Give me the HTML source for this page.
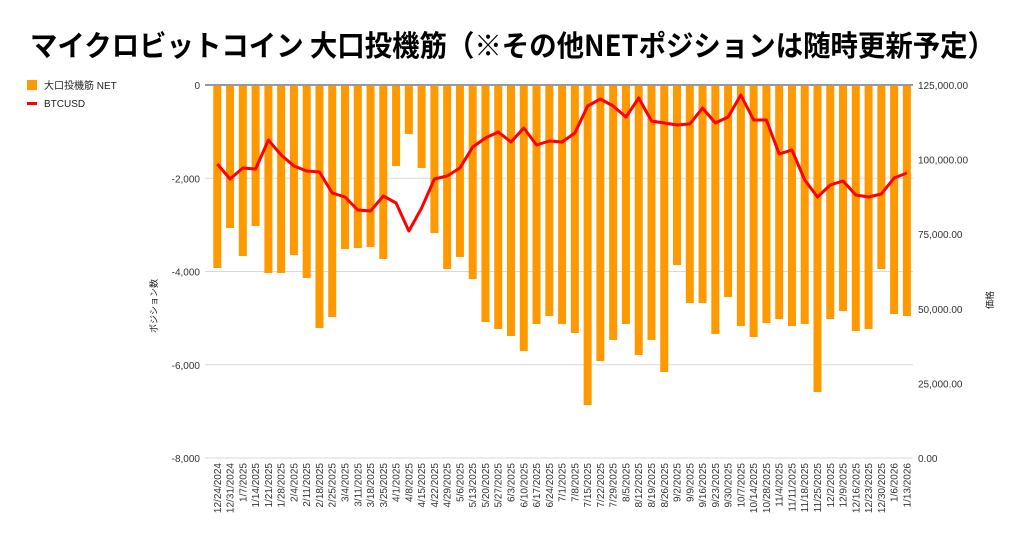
<!DOCTYPE html>
<html><head><meta charset="utf-8">
<style>
html,body{margin:0;padding:0;background:#fff;}
svg{display:block;font-family:"Liberation Sans","Noto Sans CJK JP",sans-serif;}
</style></head>
<body>
<svg id="c" width="1024" height="541" viewBox="0 0 1024 541" xmlns="http://www.w3.org/2000/svg">
<rect width="1024" height="541" fill="#fff"/>
<text x="30" y="56" font-size="29" font-weight="bold" fill="#000" textLength="965" lengthAdjust="spacingAndGlyphs" font-family="'Noto Sans CJK JP',sans-serif">マイクロビットコイン 大口投機筋（※その他NETポジションは随時更新予定）</text>
<rect x="27" y="80" width="10" height="10" fill="#ff9900"/>
<text x="44" y="89" font-size="10" fill="#222">大口投機筋  NET</text>
<rect x="27" y="102" width="10" height="3" fill="#ff0000"/>
<text x="44" y="107" font-size="10" fill="#222">BTCUSD</text>
<g id="grid"></g>
<g id="bars"></g>
<g id="lab"></g>
<polyline id="ln" fill="none" stroke="#ff0000" stroke-width="3" stroke-linejoin="round"/>
<text transform="translate(157,306) rotate(-90)" font-size="9" text-anchor="middle" fill="#222">ポジション数</text>
<text transform="translate(993,300) rotate(-90)" font-size="9" text-anchor="middle" fill="#222">価格</text>
</svg>
<script>
var ns="http://www.w3.org/2000/svg";
function el(t,a,p,txt){var e=document.createElementNS(ns,t);for(var k in a)e.setAttribute(k,a[k]);if(txt!==undefined)e.textContent=txt;document.getElementById(p).appendChild(e);return e;}
var L=205,R=913;
var lt=["0","-2,000","-4,000","-6,000","-8,000"],rt=["125,000.00","100,000.00","75,000.00","50,000.00","25,000.00","0.00"];
for(var i=0;i<5;i++){var y=85+i*93.25;
 el("line",{x1:L,x2:R,y1:y,y2:y,stroke:i==0?"#333":"#d9d9d9","stroke-width":1},"grid");
 el("text",{x:200,y:y+4,"font-size":10,"text-anchor":"end",fill:"#333"},"lab",lt[i]);}
for(var i=0;i<6;i++){var y=85+i*74.6;
 el("text",{x:918,y:y+4,"font-size":10,fill:"#333"},"lab",rt[i]);}
var b=[268,228,256,226,273,273,255,278,328,317,249,248,247,259,166,134,168,233,269,257,279,322,329,336,351,324,316,
324,333,405,361,340,324,355,340,372,265,303,303,334,297,326,337,323,319,326,324,392,319,311,331,329,269,314,316];
var l=[164,179,168,169,140,155,166,171,172,193,197,210,211,196,203,231,208,179,176,168,147,138,132,142,128,145,141,
142,133,106,99,106,117,98,121,123,125,124,108,123,117,95,120,120,154,150,180,197,185,181,195,197,194,178,173];
var d=["12/24/2024","12/31/2024","1/7/2025","1/14/2025","1/21/2025","1/28/2025","2/4/2025","2/11/2025","2/18/2025","2/25/2025","3/4/2025","3/11/2025","3/18/2025","3/25/2025","4/1/2025","4/8/2025","4/15/2025","4/22/2025","4/29/2025","5/6/2025","5/13/2025","5/20/2025","5/27/2025","6/3/2025","6/10/2025","6/17/2025","6/24/2025","7/1/2025","7/8/2025","7/15/2025","7/22/2025","7/29/2025","8/5/2025","8/12/2025","8/19/2025","8/26/2025","9/2/2025","9/9/2025","9/16/2025","9/23/2025","9/30/2025","10/7/2025","10/14/2025","10/28/2025","11/4/2025","11/11/2025","11/18/2025","11/25/2025","12/2/2025","12/9/2025","12/16/2025","12/23/2025","12/30/2025","1/6/2026","1/13/2026"];
var pts=[];
for(var i=0;i<55;i++){var x=213.3+12.77*i;
 el("rect",{x:x,y:86,width:8,height:b[i]-86,fill:"#ff9900"},"bars");
 pts.push((x+4)+","+l[i]);
 el("text",{transform:"translate("+(x+7.5)+",463) rotate(-90)","font-size":10,"text-anchor":"end",fill:"#333"},"lab",d[i]);}
document.getElementById("ln").setAttribute("points",pts.join(" "));
</script>
</body></html>
